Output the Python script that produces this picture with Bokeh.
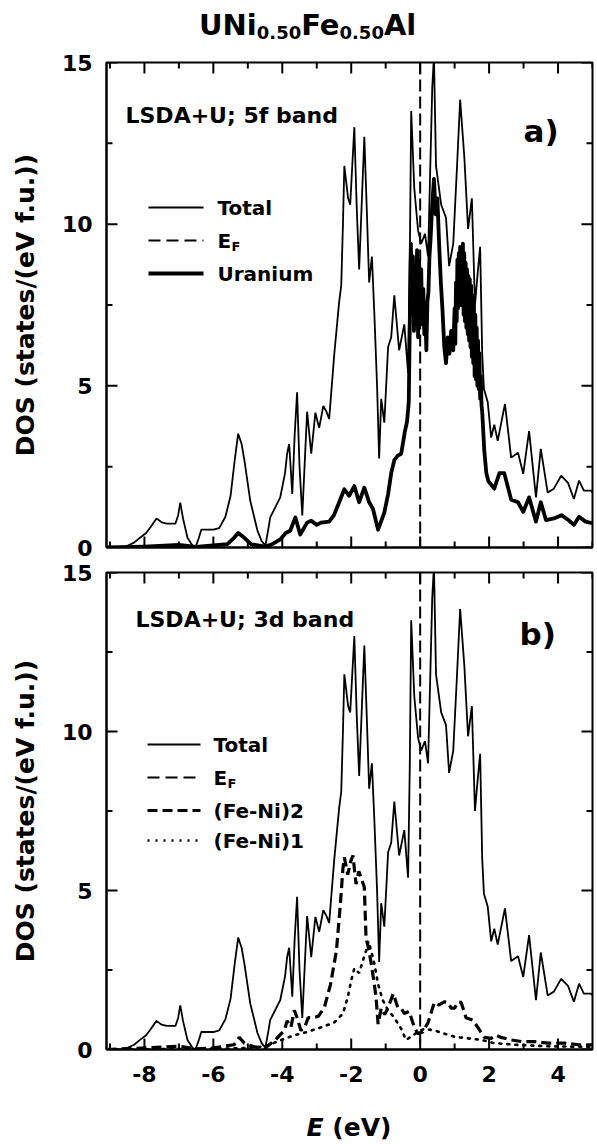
from bokeh.plotting import figure
from bokeh.models import Span, Label, FixedTicker, Div
from bokeh.layouts import column
from bokeh.embed import file_html
from bokeh.resources import INLINE

# ---- data: density of states, UNi0.50Fe0.50Al (LSDA+U) ----
e_fermi = 0.0

total_e = [-9.1, -8.6, -8.3, -8.12, -7.95, -7.83, -7.65, -7.5, -7.35, -7.1, -7.02, -6.96, -6.88,
           -6.75, -6.6, -6.52, -6.42, -6.35, -6.0, -5.83, -5.65, -5.5, -5.38, -5.28, -5.18, -5.1,
           -4.93, -4.72, -4.6, -4.49, -4.4, -4.35, -4.2, -4.06, -3.92, -3.86, -3.8, -3.71, -3.64,
           -3.57, -3.5, -3.42, -3.35, -3.28, -3.16, -3.04, -2.93, -2.81, -2.72, -2.64, -2.49,
           -2.35, -2.29, -2.24, -2.2, -2.09, -2.03, -1.91, -1.84, -1.77, -1.62, -1.55, -1.48,
           -1.4, -1.33, -1.25, -1.19, -1.13, -1.04, -0.93, -0.84, -0.75, -0.61, -0.46, -0.35,
           -0.3, -0.26, -0.17, -0.06, 0.03, 0.14, 0.23, 0.35, 0.4, 0.46, 0.61, 0.75, 0.84, 0.96,
           1.07, 1.16, 1.28, 1.39, 1.5, 1.59, 1.67, 1.74, 1.8, 1.85, 1.96, 2.06, 2.15, 2.25,
           2.46, 2.64, 2.84, 2.99, 3.16, 3.36, 3.5, 3.7, 3.88, 4.09, 4.29, 4.46, 4.61, 4.75,
           4.96, 5.0]
total_dos = [0.0, 0.0, 0.15, 0.31, 0.45, 0.62, 0.9, 0.78, 0.74, 0.74, 1.0, 1.39, 0.9,
             0.3, 0.05, 0.0, 0.3, 0.55, 0.55, 0.6, 0.95, 1.6, 2.7, 3.52, 3.2, 2.7,
             1.45, 0.52, 0.2, 0.06, 0.6, 0.93, 1.25, 1.55, 2.3, 2.9, 3.2, 1.66, 3.5,
             4.8, 2.5, 0.99, 2.6, 4.2, 2.9, 4.17, 3.7, 4.38, 4.2, 3.98, 6.0,
             7.6, 8.1, 10.0, 11.8, 10.8, 10.6, 13.0, 10.5, 8.6, 12.7, 10.5, 8.2,
             9.0, 7.25, 5.0, 2.75, 4.6, 3.86, 6.2, 6.5, 7.8, 6.1, 6.9, 5.4,
             9.0, 13.5, 11.1, 9.8, 9.4, 9.7, 9.0, 14.2, 15.2, 11.8, 10.6, 10.2, 8.7, 9.4,
             11.8, 13.85, 12.1, 9.85, 10.8, 7.5, 8.5, 9.3, 6.0, 4.9, 4.5, 3.4, 3.8, 3.3,
             4.44, 2.78, 2.93, 2.28, 3.6, 1.55, 3.05, 1.7, 1.82, 2.22, 2.0, 1.5, 2.07, 1.76,
             1.76, 1.7]

uranium_e = [-9.1, -8.0, -7.0, -6.5, -5.6, -5.4, -5.28, -5.1, -4.9, -4.5, -4.3, -4.06, -3.9,
             -3.77, -3.62, -3.48, -3.28, -3.16, -3.0, -2.88, -2.64, -2.5, -2.35, -2.2, -2.06,
             -1.91, -1.77, -1.62, -1.48, -1.37, -1.22, -1.04, -0.93, -0.84, -0.75, -0.65, -0.55,
             -0.45, -0.38, -0.33,
             -0.30, -0.27, -0.24, -0.21, -0.18, -0.15, -0.12, -0.09, -0.06, -0.03, 0.00, 0.03,
             0.06, 0.09, 0.12, 0.15, 0.18, 0.21, 0.24, 0.27, 0.30,
             0.35, 0.40, 0.45, 0.50, 0.55, 0.60, 0.65, 0.70, 0.75, 0.80, 0.85, 0.90, 0.96,
             1.00, 1.02, 1.04, 1.06, 1.08, 1.10, 1.12, 1.14, 1.16, 1.18, 1.20, 1.22, 1.24, 1.26,
             1.28, 1.30, 1.32, 1.34, 1.36, 1.38, 1.40, 1.42, 1.44, 1.46, 1.48, 1.50, 1.52, 1.54,
             1.56, 1.58, 1.60, 1.62, 1.64, 1.66, 1.68, 1.70, 1.72, 1.74, 1.76, 1.78, 1.80,
             1.86, 1.92, 1.98, 2.15, 2.3, 2.44, 2.64, 2.84, 2.99, 3.16, 3.36, 3.5, 3.65,
             3.88, 4.1, 4.3, 4.46, 4.61, 4.8, 5.0]
uranium_dos = [0.0, 0.03, 0.08, 0.02, 0.1, 0.3, 0.45, 0.3, 0.1, 0.03, 0.1, 0.25, 0.45,
               0.52, 0.93, 0.4, 0.77, 0.83, 0.7, 0.77, 0.8, 1.0, 1.4, 1.8, 1.6,
               1.9, 1.4, 1.85, 1.4, 1.2, 0.55, 1.08, 1.65, 2.3, 2.7, 2.84, 2.9,
               3.55, 3.9, 4.5,
               7.0, 9.4, 7.6, 9.0, 6.7, 8.6, 6.9, 9.2, 6.5, 8.9, 7.1, 8.6,
               6.9, 8.0, 6.6, 7.2, 6.1, 7.6, 7.9, 9.0, 9.5,
               10.6, 11.4, 10.3, 10.8, 9.4, 8.2, 7.3, 6.2, 5.7, 6.5, 6.0, 6.7, 6.1,
               7.4, 6.3, 8.2, 7.0, 8.9, 7.4, 9.1, 7.6, 9.3, 7.5, 9.2, 7.8, 9.4, 7.2,
               9.1, 7.0, 8.8, 6.8, 8.6, 6.6, 8.4, 6.4, 8.3, 6.2, 8.1, 5.9, 7.8, 5.7,
               7.5, 5.3, 7.2, 5.2, 6.8, 5.0, 6.4, 4.9, 6.0, 4.6, 5.3, 4.4, 4.2,
               3.0, 2.3, 2.05, 1.82, 2.3, 2.3, 1.48, 1.4, 1.1, 1.55, 0.8, 1.4, 0.85,
               0.9, 1.0, 0.85, 0.7, 0.95, 0.8, 0.75]

feni2_e = [-9.1, -8.0, -7.0, -6.5, -6.0, -5.4, -5.25, -5.1, -4.8, -4.5, -4.2, -4.03, -3.94,
           -3.86, -3.75, -3.65, -3.57, -3.46, -3.35, -3.25, -3.1, -2.95, -2.78, -2.6, -2.43,
           -2.32, -2.24, -2.2, -2.1, -2.02, -1.95, -1.86, -1.78, -1.71, -1.62, -1.57, -1.5,
           -1.42, -1.35, -1.28, -1.22, -1.13, -1.03, -0.93, -0.78, -0.65, -0.55, -0.46, -0.32,
           -0.17, -0.07, 0.08, 0.23, 0.41, 0.55, 0.7, 0.8, 0.9, 1.0, 1.1, 1.19, 1.33, 1.53,
           1.67, 1.86, 2.06, 2.2, 2.35, 2.64, 2.94, 3.32, 3.71, 4.2, 4.6, 5.0]
feni2_dos = [0.0, 0.05, 0.1, 0.02, 0.05, 0.15, 0.38, 0.2, 0.08, 0.05, 0.3, 0.5, 0.6,
             0.9, 0.7, 1.23, 1.0, 0.6, 0.7, 1.0, 1.0, 1.05, 1.32, 2.05, 3.1,
             4.5, 5.7, 6.04, 5.5, 5.9, 6.1, 5.2, 5.6, 5.4, 5.1, 3.5, 3.2,
             2.7, 2.2, 1.65, 0.8, 1.3, 1.1, 1.32, 1.76, 1.32, 1.3, 1.13, 1.2,
             0.7, 0.5, 0.55, 0.85, 1.48, 1.4, 1.5, 1.48, 1.3, 1.3, 1.5, 1.48, 1.0, 0.92,
             0.7, 0.38, 0.35, 0.45, 0.38, 0.3, 0.25, 0.25, 0.2, 0.2, 0.15, 0.15]

feni1_e = [-9.1, -6.0, -5.0, -4.5, -4.03, -3.65, -3.28, -2.87, -2.49, -2.24, -2.1, -2.0, -1.91,
           -1.77, -1.66, -1.57, -1.5, -1.42, -1.33, -1.22, -1.09, -0.93, -0.75, -0.55, -0.41,
           -0.27, -0.07, 0.12, 0.41, 0.7, 1.0, 1.38, 1.77, 2.15, 2.74, 3.71, 5.0]
feni1_dos = [0.0, 0.02, 0.05, 0.1, 0.3, 0.45, 0.55, 0.7, 0.85, 1.13, 1.65, 2.17, 2.55,
             2.4, 2.8, 3.1, 3.4, 3.1, 2.7, 2.06, 1.56, 1.23, 1.0, 0.65, 0.3,
             0.4, 0.55, 0.65, 0.6, 0.5, 0.4, 0.35, 0.3, 0.2, 0.15, 0.1, 0.08]

x_major = [-8, -6, -4, -2, 0, 2, 4]
x_minor = [-9, -7, -5, -3, -1, 1, 3, 5]
y_major = [0, 5, 10, 15]
y_minor = [2.5, 7.5, 12.5]

# ---- layout ----
FONT = "DejaVu Sans"
X_MIN, X_MAX = -9.1, 5.0
Y_MAX = 15.0
LEFT, RIGHT = 106, 5
W = 597
FRAME_W = W - LEFT - RIGHT
TITLE_H = 40
A_TOP, A_FRAME_H, A_BOTTOM = 22, 485, 13
B_TOP, B_FRAME_H, B_BOTTOM = 12, 477, 51
XLABEL_H = 1144 - (TITLE_H + A_TOP + A_FRAME_H + A_BOTTOM + B_TOP + B_FRAME_H + B_BOTTOM)
A_FRAME_Y0 = TITLE_H + A_TOP                      # frame top of panel a in the page
B_FRAME_Y0 = TITLE_H + A_TOP + A_FRAME_H + A_BOTTOM + B_TOP

MAJOR_LEN, MINOR_LEN = 11, 6   # inward tick lengths, px


def dx(px):
    """horizontal page pixel -> energy"""
    return X_MIN + (px - LEFT) * (X_MAX - X_MIN) / FRAME_W


def dy(py, frame_top, frame_h):
    """vertical page pixel -> DOS for a panel whose frame starts at frame_top"""
    return (frame_top + frame_h - py) * Y_MAX / frame_h


def tick(p, x0, y0, x1, y1):
    p.segment(x0=[float(x0)], y0=[float(y0)], x1=[float(x1)], y1=[float(y1)],
              line_color="black", line_width=2)


def add_ticks(p, frame_h):
    """inward ticks on all four sides of the frame"""
    ex = (X_MAX - X_MIN) / FRAME_W   # energy per px
    ey = Y_MAX / frame_h             # DOS per px
    for ticks, n in ((x_major, MAJOR_LEN), (x_minor, MINOR_LEN)):
        for t in ticks:
            tick(p, t, 0.0, t, n * ey)
            tick(p, t, Y_MAX, t, Y_MAX - n * ey)
    for ticks, n in ((y_major, MAJOR_LEN), (y_minor, MINOR_LEN)):
        for t in ticks:
            tick(p, X_MIN, t, X_MIN + n * ex, t)
            tick(p, X_MAX, t, X_MAX - n * ex, t)


def make_panel(frame_h, top, bottom, show_x_labels):
    p = figure(width=W, height=top + frame_h + bottom, x_range=(X_MIN, X_MAX),
               y_range=(0, Y_MAX), output_backend="svg", toolbar_location=None,
               min_border_left=LEFT, min_border_right=RIGHT,
               min_border_top=top, min_border_bottom=bottom)
    p.grid.visible = False
    p.outline_line_color = "black"
    p.outline_line_width = 2
    p.background_fill_color = "white"
    p.border_fill_color = "white"

    p.xaxis.ticker = FixedTicker(ticks=x_major, minor_ticks=x_minor)
    p.yaxis.ticker = FixedTicker(ticks=y_major, minor_ticks=y_minor)
    for ax in p.axis:
        ax.axis_line_width = 2
        ax.major_tick_in = 0
        ax.major_tick_out = 0
        ax.minor_tick_in = 0
        ax.minor_tick_out = 0
        ax.major_label_text_font = FONT
        ax.major_label_text_font_style = "bold"
        ax.major_label_text_font_size = "22px"
        ax.major_label_text_color = "black"
    bl = p.below[0]
    if show_x_labels:
        bl.major_label_standoff = 16
        bl.major_label_overrides = {v: str(v) for v in x_major}
    else:
        bl.major_label_text_font_size = "1px"
        bl.major_label_text_color = None
        bl.major_label_standoff = 0
    left = p.left[0]
    left.major_label_standoff = 14
    left.axis_label = "DOS (states/(eV f.u.))"
    left.axis_label_text_font = FONT
    left.axis_label_text_font_style = "bold"
    left.axis_label_text_font_size = "25px"
    left.axis_label_text_color = "black"
    left.axis_label_standoff = 19
    add_ticks(p, frame_h)
    p.add_layout(Span(location=e_fermi, dimension="height", line_color="black",
                      line_width=2, line_dash="12 5"))
    return p


def text(p, x, y, s, size, style="bold", baseline="middle"):
    p.add_layout(Label(x=x, y=y, text=s, text_font=FONT, text_font_style=style,
                       text_font_size=size, text_color="black",
                       text_baseline=baseline, text_align="left"))


def key(p, x0, x1, y, width, dash="solid"):
    p.segment(x0=[x0], y0=[y], x1=[x1], y1=[y], line_color="black",
              line_width=width, line_dash=dash)


# ---- title with subscripts ----
title = Div(
    text=('<div style="padding:11px 0 0 199px; font-family:\'DejaVu Sans\'; '
          'font-weight:bold; font-size:29px; line-height:29px; color:black; '
          'white-space:nowrap;">UNi<span style="font-size:18px; position:relative; '
          'top:4px;">0.50</span>Fe<span style="font-size:18px; position:relative; '
          'top:4px;">0.50</span>Al</div>'),
    width=W, height=TITLE_H, margin=(0, 0, 0, 0))

# ---- panel a: 5f band ----
pa = make_panel(A_FRAME_H, A_TOP, A_BOTTOM, False)
pa.line(total_e, total_dos, line_color="black", line_width=1.8)
pa.line(uranium_e, uranium_dos, line_color="black", line_width=3.8, line_join="round")

ya = lambda py: dy(py, A_FRAME_Y0, A_FRAME_H)
text(pa, dx(125), ya(115), "LSDA+U; 5f band", "22px")
text(pa, dx(523), ya(130), "a)", "31px")

key(pa, dx(148), dx(203), ya(207), 1.8)
text(pa, dx(217), ya(207), "Total", "20px")
key(pa, dx(148), dx(203), ya(240), 1.8, "12 6")
text(pa, dx(217), ya(240), "E", "20px")
text(pa, dx(231), ya(246), "F", "13px")
key(pa, dx(148), dx(203), ya(273), 3.8)
text(pa, dx(217), ya(273), "Uranium", "20px")

# ---- panel b: 3d band ----
pb = make_panel(B_FRAME_H, B_TOP, B_BOTTOM, True)
pb.line(total_e, total_dos, line_color="black", line_width=1.8)
pb.line(feni2_e, feni2_dos, line_color="black", line_width=3.2, line_dash="10 5")
pb.line(feni1_e, feni1_dos, line_color="black", line_width=2.6, line_dash="2 6",
        line_cap="round")

yb = lambda py: dy(py, B_FRAME_Y0, B_FRAME_H)
text(pb, dx(135), yb(619), "LSDA+U; 3d band", "22px")
text(pb, dx(519), yb(633), "b)", "31px")

key(pb, dx(147), dx(200), yb(744), 1.8)
text(pb, dx(213), yb(744), "Total", "20px")
key(pb, dx(147), dx(200), yb(777), 1.8, "12 6")
text(pb, dx(213), yb(777), "E", "20px")
text(pb, dx(227), yb(783), "F", "13px")
key(pb, dx(147), dx(200), yb(810), 3.2, "10 5")
text(pb, dx(213), yb(810), "(Fe-Ni)2", "20px")
key(pb, dx(147), dx(200), yb(840), 2.6, "2 6")
text(pb, dx(213), yb(840), "(Fe-Ni)1", "20px")

# ---- energy axis title: italic E followed by the unit ----
xlabel = Div(
    text=('<div style="width:%dpx; margin-left:%dpx; padding-top:15px; text-align:center; '
          'font-family:\'DejaVu Sans\'; font-weight:bold; font-size:25px; line-height:25px; '
          'color:black; white-space:nowrap;"><i>E</i> (eV)</div>') % (FRAME_W, LEFT),
    width=W, height=XLABEL_H, margin=(0, 0, 0, 0))

layout = column(title, pa, pb, xlabel, spacing=0)
open("out.html", "w").write(file_html(layout, INLINE))
